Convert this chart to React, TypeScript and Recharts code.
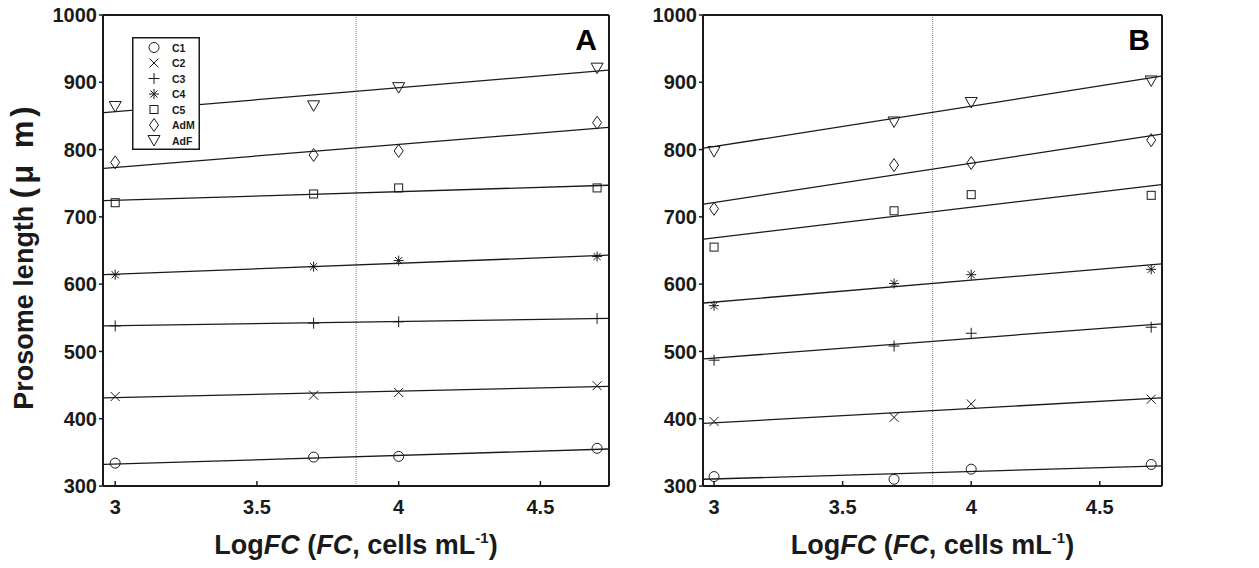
import React from 'react';
import { ComposedChart, Scatter, Line, XAxis, YAxis, ReferenceLine } from 'recharts';

const FONT = '"Liberation Sans", Arial, Helvetica, sans-serif';
const INK = '#1a1a1a';

// -- data --
const stages = ['C1', 'C2', 'C3', 'C4', 'C5', 'AdM', 'AdF'];
const logFC = [3, 3.7, 4, 4.7];
const fitEnds = [2.96, 4.74];
const xTicks = [3, 3.5, 4, 4.5];
const yTicks = [300, 400, 500, 600, 700, 800, 900, 1000];
const threshold = 3.85;

// panel A: prosome length per stage at each food concentration
const lengthA = [
  [334, 343, 344, 356],
  [433, 435, 439, 449],
  [538, 542, 544, 549],
  [614, 626, 635, 641],
  [721, 734, 743, 743],
  [781, 792, 798, 840],
  [864, 865, 892, 921],
];
// regression line values at the two x-limits
const fitA = [
  [332, 355],
  [431, 448],
  [538, 549],
  [614, 643],
  [724, 747],
  [772, 833],
  [855, 918],
];

const lengthB = [
  [314, 310, 325, 332],
  [396, 402, 422, 429],
  [487, 508, 527, 536],
  [568, 601, 614, 622],
  [655, 709, 733, 732],
  [712, 777, 780, 814],
  [797, 841, 870, 902],
];
const fitB = [
  [310, 330],
  [393, 431],
  [489, 541],
  [572, 630],
  [667, 748],
  [719, 823],
  [802, 909],
];

const Marker = ({ kind, cx, cy }: { kind: string; cx: number; cy: number }) => {
  const s = { stroke: INK, strokeWidth: 1, fill: 'none' };
  switch (kind) {
    case 'C1':
      return <circle cx={cx} cy={cy} r={5} {...s} />;
    case 'C2':
      return <path d={`M${cx - 4.5},${cy - 4.5}L${cx + 4.5},${cy + 4.5}M${cx - 4.5},${cy + 4.5}L${cx + 4.5},${cy - 4.5}`} {...s} />;
    case 'C3':
      return <path d={`M${cx - 5.5},${cy}H${cx + 5.5}M${cx},${cy - 5.5}V${cy + 5.5}`} {...s} />;
    case 'C4':
      return (
        <path
          d={`M${cx - 5},${cy}H${cx + 5}M${cx},${cy - 5}V${cy + 5}M${cx - 3.6},${cy - 3.6}L${cx + 3.6},${cy + 3.6}M${cx - 3.6},${cy + 3.6}L${cx + 3.6},${cy - 3.6}`}
          {...s}
        />
      );
    case 'C5':
      return <rect x={cx - 4} y={cy - 4} width={8} height={8} {...s} />;
    case 'AdM':
      return <path d={`M${cx},${cy - 6.5}L${cx + 4.5},${cy}L${cx},${cy + 6.5}L${cx - 4.5},${cy}Z`} {...s} />;
    default:
      return <path d={`M${cx - 6},${cy - 5}L${cx + 6},${cy - 5}L${cx},${cy + 5.5}Z`} {...s} />;
  }
};

const StageLegend = () => (
  <svg
    width={68}
    height={113}
    style={{ position: 'absolute', left: 132, top: 37, overflow: 'visible' }}
  >
    <rect x={0.75} y={0.75} width={66.5} height={111.5} fill="#fff" stroke={INK} strokeWidth={1.5} />
    {stages.map((st, i) => (
      <g key={st}>
        <Marker kind={st} cx={22} cy={10.5 + i * 15.5} />
        <text x={40} y={14.5 + i * 15.5} fontFamily={FONT} fontWeight="bold" fontSize={10.5} fill={INK}>
          {st}
        </text>
      </g>
    ))}
  </svg>
);

const XTitle = ({ viewBox }: any) => {
  const cx = viewBox.x + viewBox.width / 2;
  return (
    <text x={cx} y={554} textAnchor="middle" fontFamily={FONT} fontWeight="bold" fontSize={27} fill={INK}>
      Log<tspan fontStyle="italic">FC</tspan> (<tspan fontStyle="italic">FC</tspan>, cells mL
      <tspan fontSize={15} dy={-11}>-1</tspan>
      <tspan dy={11}>)</tspan>
    </text>
  );
};

const YTitle = () => (
  <text
    x={33}
    y={256}
    transform="rotate(-90 33 256)"
    textAnchor="middle"
    fontFamily={FONT}
    fontWeight="bold"
    fontSize={27}
    fill={INK}
  >
    Prosome length{' '}
    <tspan fontSize={31} letterSpacing={4}>
      (μ m)
    </tspan>
  </text>
);

const PanelTag = ({ viewBox, tag }: any) => (
  <text
    x={viewBox.x + viewBox.width - 12}
    y={viewBox.y + viewBox.height + 35}
    textAnchor="end"
    fontFamily={FONT}
    fontWeight="bold"
    fontSize={30}
    fill="#000"
  >
    {tag}
  </text>
);

type PanelProps = {
  tag: string;
  lengths: number[][];
  fits: number[][];
  width: number;
  left: number;
  leftAxis: number;
  rightAxis: number;
  showYTitle?: boolean;
};

const Panel = ({ tag, lengths, fits, width, left, leftAxis, rightAxis, showYTitle }: PanelProps) => {
  const tickStyle = { fontFamily: FONT, fontWeight: 'bold', fontSize: 20, fill: INK };
  const axisLine = { stroke: INK, strokeWidth: 2 };
  return (
    <div style={{ position: 'absolute', left, top: 0 }}>
      <ComposedChart width={width} height={568} margin={{ top: 0, right: 0, bottom: 0, left: 0 }}>
        <XAxis
          dataKey="x"
          type="number"
          domain={[2.957, 4.742]}
          ticks={xTicks}
          allowDataOverflow
          height={82}
          axisLine={axisLine}
          tickLine={{ stroke: INK, strokeWidth: 1.5 }}
          tickSize={-5}
          tickMargin={19}
          tick={tickStyle}
          label={<XTitle />}
        />
        <XAxis
          xAxisId="t"
          orientation="top"
          dataKey="x"
          type="number"
          domain={[2.957, 4.742]}
          ticks={xTicks}
          allowDataOverflow
          height={15}
          axisLine={axisLine}
          tickLine={{ stroke: INK, strokeWidth: 1.5 }}
          tickSize={-5}
          tick={false}
          label={<PanelTag tag={tag} />}
        />
        <YAxis
          type="number"
          domain={[300, 1000]}
          ticks={yTicks}
          allowDataOverflow
          width={leftAxis}
          axisLine={axisLine}
          tickLine={{ stroke: INK, strokeWidth: 1.5 }}
          tickSize={4}
          tickMargin={2}
          tick={tickStyle}
          label={showYTitle ? <YTitle /> : undefined}
        />
        <YAxis
          yAxisId="r"
          orientation="right"
          type="number"
          domain={[300, 1000]}
          ticks={yTicks}
          allowDataOverflow
          width={rightAxis}
          axisLine={axisLine}
          tickLine={{ stroke: INK, strokeWidth: 1.5 }}
          tickSize={-5}
          tick={false}
        />
        <ReferenceLine x={threshold} stroke="#8a8a8a" strokeWidth={1} strokeDasharray="1 1" />
        {stages.map((st, i) => (
          <Line
            key={`fit-${st}`}
            data={fitEnds.map((x, j) => ({ x, y: fits[i][j] }))}
            dataKey="y"
            type="linear"
            stroke={INK}
            strokeWidth={1.3}
            dot={false}
            activeDot={false}
            legendType="none"
            isAnimationActive={false}
          />
        ))}
        {stages.map((st, i) => (
          <Scatter
            key={`pts-${st}`}
            name={st}
            data={logFC.map((x, j) => ({ x, y: lengths[i][j] }))}
            dataKey="y"
            shape={(p: any) => <Marker kind={st} cx={p.cx} cy={p.cy} />}
            isAnimationActive={false}
          />
        ))}
      </ComposedChart>
    </div>
  );
}

export default function App() {
  return (
    <div style={{ position: 'absolute', left: 0, top: 0, width: 1259, height: 568, background: '#fff' }}>
      <Panel tag="A" lengths={lengthA} fits={fitA} width={630} left={0} leftAxis={103} rightAxis={21} showYTitle />
      <Panel tag="B" lengths={lengthB} fits={fitB} width={629} left={630} leftAxis={73} rightAxis={97} />
      <StageLegend />
    </div>
  );
}
